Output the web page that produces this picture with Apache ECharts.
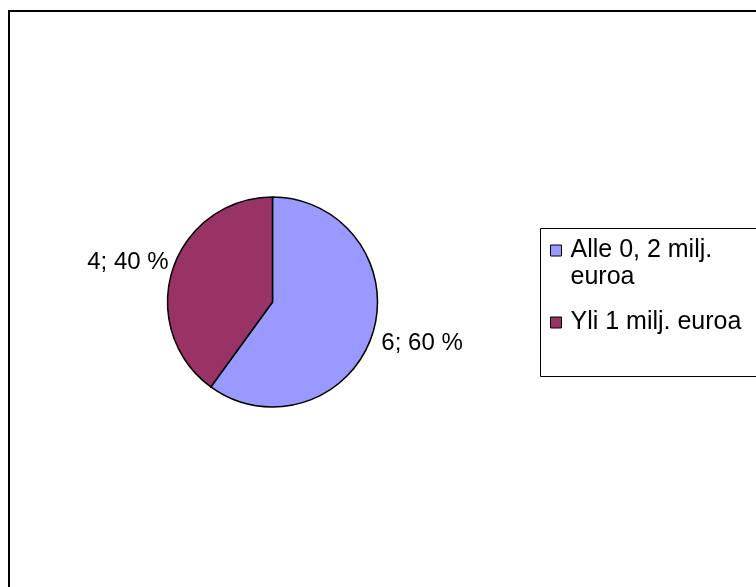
<!DOCTYPE html>
<html>
<head>
<meta charset="utf-8">
<script src="https://cdn.jsdelivr.net/npm/echarts@6/dist/echarts.min.js"></script>
<style>
  html, body { margin: 0; padding: 0; background: #fff; }
  #chart { width: 756px; height: 587px; }
</style>
</head>
<body>
<div id="chart"></div>
<script>
// data
const categories = ["Alle 0, 2 milj. euroa", "Yli 1 milj. euroa"];
const values = [6, 4];
const colors = ["#9999FF", "#993366"];
// legend text as it is wrapped in the picture (blank first line keeps the
// square beside the first text line)
const legendLines = [" \nAlle 0, 2 milj.\neuroa", "Yli 1 milj. euroa"];
// small nudges of the slice labels
const labelShift = [[3, 9], [2, -7]];

const chart = echarts.init(document.getElementById("chart"));

const pieData = categories.map((name, i) => ({
  name: name,
  value: values[i],
  itemStyle: { color: colors[i] }
}));

const option = {
  animation: false,
  textStyle: { fontFamily: "Liberation Sans, Arial, sans-serif" },
  graphic: [
    {
      type: "rect",
      shape: { x: 9, y: 11, width: 800, height: 700 },
      style: { fill: "none", stroke: "#000", lineWidth: 2 },
      silent: true
    },
    {
      type: "rect",
      shape: { x: 540.5, y: 228.5, width: 300, height: 148 },
      style: { fill: "none", stroke: "#000", lineWidth: 1 },
      silent: true
    }
  ],
  legend: {
    orient: "vertical",
    left: 550,
    top: 210,
    padding: 0,
    itemWidth: 19,
    itemHeight: 11,
    itemGap: 18,
    icon: "path://M0,0H11V11H0Z",
    itemStyle: { borderColor: "#000", borderWidth: 1 },
    textStyle: {
      fontSize: 25,
      color: "#000",
      fontFamily: "Liberation Sans, Arial, sans-serif",
      lineHeight: 27
    },
    data: categories,
    formatter: (name) => legendLines[categories.indexOf(name)]
  },
  series: [
    {
      type: "pie",
      center: [272.5, 302],
      radius: 105,
      startAngle: 90,
      clockwise: true,
      avoidLabelOverlap: false,
      itemStyle: { borderColor: "#000", borderWidth: 1.5 },
      label: {
        show: true,
        position: "outside",
        fontSize: 24,
        color: "#000",
        distanceToLabelLine: 6,
        formatter: (p) => p.value + "; " + Math.round(p.percent) + " %"
      },
      labelLine: { show: false, length: 0, length2: 0 },
      labelLayout: (p) => ({ dx: labelShift[p.dataIndex][0], dy: labelShift[p.dataIndex][1] }),
      emphasis: { disabled: true },
      data: pieData
    }
  ]
};

chart.setOption(option);
</script>
</body>
</html>
